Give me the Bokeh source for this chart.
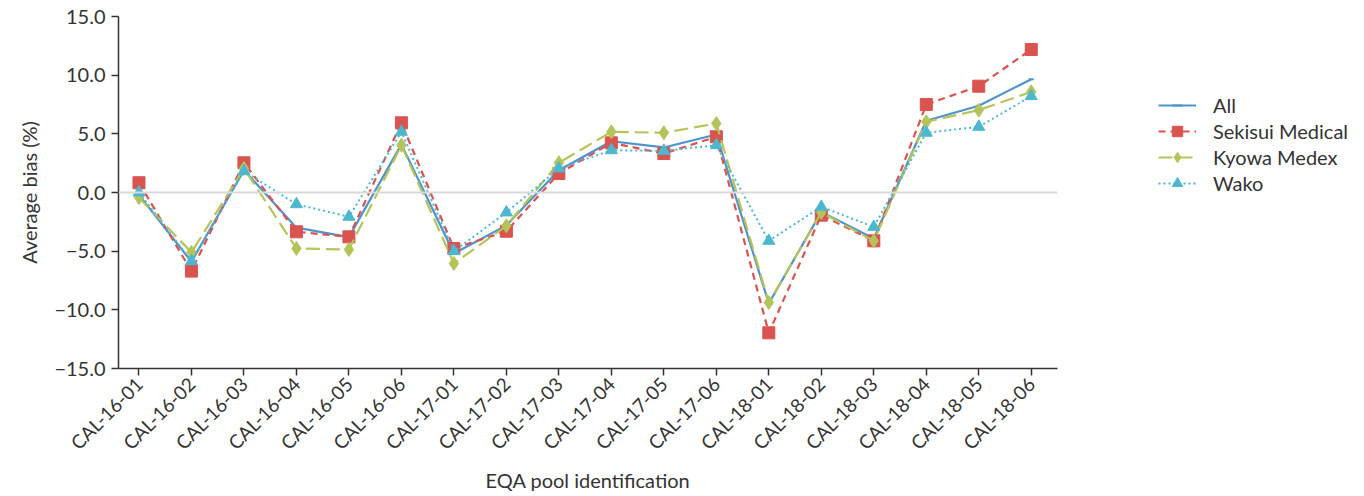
from bokeh.plotting import figure
from bokeh.models import Range1d, Span, Legend, LegendItem, FixedTicker, CustomJSTickFormatter
from bokeh.embed import file_html
from bokeh.resources import INLINE
import math

categories = ["CAL-16-01", "CAL-16-02", "CAL-16-03", "CAL-16-04", "CAL-16-05", "CAL-16-06",
              "CAL-17-01", "CAL-17-02", "CAL-17-03", "CAL-17-04", "CAL-17-05", "CAL-17-06",
              "CAL-18-01", "CAL-18-02", "CAL-18-03", "CAL-18-04", "CAL-18-05", "CAL-18-06"]
all_vals = [-0.2, -5.9, 1.9, -3.0, -3.8, 4.1, -5.2, -2.8, 1.9, 4.37, 3.84, 4.94, -9.46, -1.65, -3.92, 6.11, 7.39, 9.66]
sekisui = [0.83, -6.7, 2.53, -3.35, -3.78, 5.94, -4.77, -3.3, 1.62, 4.23, 3.32, 4.75, -11.96, -1.93, -4.12, 7.5, 9.06, 12.19]
kyowa = [-0.43, -5.1, 2.05, -4.77, -4.86, 4.03, -6.05, -2.84, 2.53, 5.17, 5.09, 5.88, -9.38, -1.7, -4.12, 6.03, 7.02, 8.58]
wako = [0.0, -5.85, 1.82, -1.0, -2.07, 5.17, -5.0, -1.7, 2.05, 3.6, 3.55, 4.03, -4.12, -1.22, -2.93, 5.09, 5.6, 8.21]
y_ticks = [-15, -10, -5, 0, 5, 10, 15]

xs = list(range(len(categories)))
FONT = "Lato"
TXT = "#333333"

p = figure(width=1348, height=480, output_backend="svg", toolbar_location=None,
           x_range=Range1d(-0.39, 17.5), y_range=Range1d(-15, 15),
           min_border_left=118, min_border_top=16, min_border_right=291, min_border_bottom=2)
p.frame_width = 939
p.frame_height = 352
p.outline_line_color = None
p.xgrid.visible = False
p.ygrid.visible = False
p.background_fill_color = "white"
p.border_fill_color = "white"

p.add_layout(Span(location=0, dimension="width", line_color="#d9d9d9", line_width=2))

C_ALL = "#4f93cc"
C_SEK = "#d9534f"
C_KYO = "#b5c45a"
C_WAK = "#4cb8cf"

r1 = p.line(xs, all_vals, line_color=C_ALL, line_width=2.2)
r1m = p.scatter(xs, all_vals, marker="dash", size=5, line_color=C_ALL, line_width=2)
r2 = p.line(xs, sekisui, line_color=C_SEK, line_width=2.2, line_dash="7 5")
r2m = p.scatter(xs, sekisui, marker="square", size=12, fill_color=C_SEK, line_color=C_SEK)
r3 = p.line(xs, kyowa, line_color=C_KYO, line_width=2.2, line_dash="14 6")
r3m = p.scatter(xs, kyowa, marker="diamond", size=14, fill_color=C_KYO, line_color=C_KYO)
r4 = p.line(xs, wako, line_color=C_WAK, line_width=2, line_dash="2 3")
r4m = p.scatter(xs, wako, marker="triangle", size=12, fill_color=C_WAK, line_color=C_WAK)

# axes
p.xaxis.ticker = FixedTicker(ticks=xs)
p.xaxis.major_label_overrides = {i: c for i, c in enumerate(categories)}
p.xaxis.major_label_orientation = math.pi / 4
p.xaxis.minor_tick_line_color = None
p.xaxis.axis_label = "EQA pool identification"
p.yaxis.ticker = FixedTicker(ticks=y_ticks)
p.yaxis.formatter = CustomJSTickFormatter(code="return (tick < 0 ? '\u2212' + (-tick).toFixed(1) : tick.toFixed(1));")
p.yaxis.minor_tick_line_color = None
p.yaxis.axis_label = "Average bias (%)"
for ax in (p.xaxis, p.yaxis):
    ax.axis_line_color = "#333333"
    ax.axis_line_width = 1.5
    ax.major_tick_line_color = "#333333"
    ax.major_tick_line_width = 1.5
    ax.major_tick_in = 0
    ax.major_tick_out = 7
    ax.major_label_text_font = FONT
    ax.major_label_text_font_size = "20px"
    ax.major_label_text_color = TXT
    ax.axis_label_text_font = FONT
    ax.axis_label_text_font_size = "20px"
    ax.axis_label_text_font_style = "normal"
    ax.axis_label_text_color = TXT
p.xaxis.major_label_text_font_size = "19px"
p.xaxis.major_label_standoff = 5
p.yaxis.major_label_standoff = 6
p.xaxis.axis_label_standoff = 3
p.yaxis.axis_label_standoff = 10

legend = Legend(items=[
    LegendItem(label="All", renderers=[r1, r1m]),
    LegendItem(label="Sekisui Medical", renderers=[r2, r2m]),
    LegendItem(label="Kyowa Medex", renderers=[r3, r3m]),
    LegendItem(label="Wako", renderers=[r4, r4m]),
], location=(101, 172))
legend.border_line_color = None
legend.background_fill_alpha = 0
legend.padding = 0
legend.margin = 0
legend.spacing = 0
legend.glyph_width = 38
legend.glyph_height = 26
legend.label_height = 26
legend.label_standoff = 17
legend.label_text_font = FONT
legend.label_text_font_size = "20px"
legend.label_text_color = TXT
p.add_layout(legend, "right")

open("out.html", "w").write(file_html(p, INLINE))
